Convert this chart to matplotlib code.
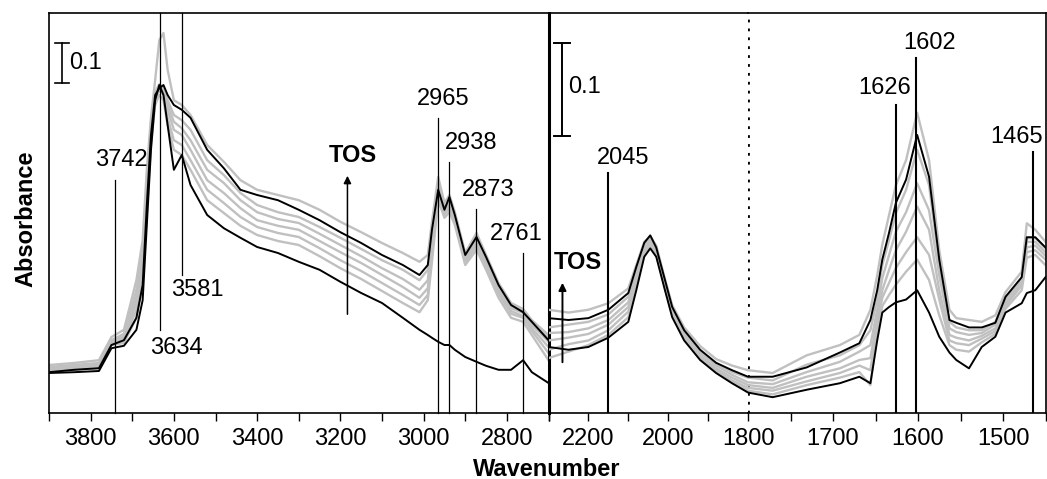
import matplotlib
matplotlib.use('Agg')
import matplotlib.pyplot as plt
import numpy as np

plt.rcParams['font.family'] = ['Liberation Sans', 'DejaVu Sans']

# ---------------- data (absorbance x 1000, relative) ----------------
left_wn = [3900, 3840, 3780, 3750, 3720, 3690, 3675, 3665, 3655, 3645, 3635, 3625, 3615, 3600,
           3581, 3560, 3520, 3480, 3440, 3400, 3350, 3300, 3250, 3200, 3150, 3100, 3050, 3010,
           2990, 2980, 2965, 2950, 2938, 2925, 2900, 2873, 2850, 2820, 2790, 2761, 2740, 2700]
left_first = [100, 102, 105, 162, 168, 208, 282, 470, 658, 782, 820, 795, 720, 608, 645, 570, 495, 462,
              438, 415, 400, 378, 358, 328, 300, 275, 238, 208, 195, 188, 178, 170, 170, 158, 140, 128,
              118, 108, 108, 132, 102, 75]
left_g1 = [105, 108, 112, 170, 175, 238, 320, 502, 675, 770, 795, 782, 720, 658, 645, 608, 532, 500, 468,
           445, 430, 420, 392, 362, 335, 305, 275, 252, 282, 378, 532, 488, 502, 470, 370, 408, 358, 288,
           238, 228, 195, 132]
left_g2 = [108, 112, 118, 175, 182, 258, 345, 520, 688, 782, 808, 795, 738, 682, 670, 632, 558, 525, 490,
           465, 450, 440, 412, 382, 355, 325, 295, 270, 295, 395, 542, 495, 512, 478, 375, 418, 368, 298,
           248, 238, 205, 150]
left_g3 = [110, 115, 120, 178, 188, 275, 362, 538, 700, 790, 812, 802, 758, 708, 695, 658, 582, 550, 512,
           482, 468, 458, 430, 402, 375, 345, 315, 288, 312, 412, 550, 502, 520, 482, 380, 425, 375, 305,
           255, 242, 212, 165]
left_g4 = [112, 118, 122, 180, 192, 290, 382, 558, 712, 795, 818, 808, 770, 728, 712, 682, 608, 575, 532,
           502, 485, 475, 448, 420, 392, 362, 335, 308, 332, 432, 558, 508, 528, 488, 385, 432, 382, 312,
           262, 250, 220, 178]
left_g5 = [115, 120, 125, 182, 198, 308, 402, 575, 725, 802, 822, 812, 782, 745, 732, 708, 632, 595, 550,
           520, 502, 490, 465, 438, 410, 382, 358, 332, 358, 452, 570, 515, 532, 495, 390, 440, 388, 318,
           268, 255, 225, 188]
left_g6 = [120, 125, 132, 190, 208, 332, 432, 608, 738, 832, 932, 950, 858, 782, 770, 745, 670, 628, 582,
           558, 545, 532, 508, 478, 452, 425, 400, 378, 395, 478, 590, 525, 545, 502, 400, 450, 395, 325,
           275, 260, 232, 195]
left_last = [102, 108, 112, 170, 182, 238, 320, 520, 695, 795, 812, 820, 795, 770, 758, 738, 658, 612, 558,
             545, 532, 508, 482, 452, 425, 395, 370, 345, 370, 458, 558, 508, 540, 495, 395, 440, 390, 320,
             270, 252, 228, 182]

right_wn = [2300, 2250, 2200, 2150, 2100, 2080, 2060, 2045, 2030, 2010, 1990, 1960, 1920, 1880, 1840,
            1800, 1771, 1731, 1692, 1669, 1656, 1648, 1642, 1634, 1626, 1614, 1601, 1587, 1575, 1563,
            1555, 1540, 1525, 1509, 1497, 1478, 1472, 1462, 1450]
right_first = [71, 68, 71, 81, 98, 132, 168, 177, 168, 135, 103, 78, 57, 43, 32, 22, 17, 25, 32, 39,
               32, 78, 108, 114, 119, 122, 132, 108, 82, 65, 57, 48, 71, 82, 108, 118, 129, 132, 146]
right_g1 = [59, 66, 73, 84, 103, 137, 171, 180, 170, 138, 105, 81, 58, 44, 33, 24, 20, 30, 38, 44,
            30, 86, 115, 127, 138, 152, 165, 143, 105, 73, 68, 66, 76, 85, 112, 132, 167, 170, 159]
right_g2 = [68, 74, 78, 89, 109, 141, 174, 182, 172, 140, 108, 83, 60, 46, 35, 27, 24, 34, 43, 51,
            46, 95, 124, 140, 156, 173, 189, 170, 122, 78, 75, 73, 80, 88, 115, 137, 173, 175, 165]
right_g3 = [78, 81, 85, 95, 114, 145, 176, 184, 173, 141, 109, 84, 62, 48, 38, 30, 27, 39, 48, 57,
            59, 102, 132, 154, 175, 195, 222, 197, 132, 84, 81, 78, 83, 91, 118, 140, 178, 180, 169]
right_g4 = [86, 87, 91, 100, 119, 149, 178, 186, 175, 143, 111, 86, 65, 51, 41, 33, 31, 44, 55, 66,
            73, 111, 145, 170, 195, 216, 247, 218, 148, 91, 87, 84, 86, 95, 122, 143, 184, 184, 173]
right_g5 = [92, 95, 98, 106, 125, 154, 181, 188, 177, 145, 113, 88, 67, 53, 44, 38, 35, 52, 62, 73,
            89, 122, 159, 186, 215, 240, 283, 245, 159, 98, 92, 89, 89, 98, 124, 145, 188, 188, 177]
right_g6 = [111, 108, 111, 118, 134, 159, 184, 190, 180, 147, 116, 92, 72, 58, 51, 46, 43, 62, 73, 84,
            111, 148, 181, 213, 245, 272, 323, 272, 175, 111, 102, 100, 98, 105, 130, 152, 204, 197, 184]
right_last = [102, 100, 102, 111, 129, 157, 183, 191, 178, 146, 114, 89, 68, 54, 46, 39, 39, 49, 65, 75,
              100, 132, 165, 194, 226, 251, 299, 254, 165, 100, 97, 92, 92, 97, 125, 146, 189, 189, 178]

left_peaks = [3742, 3634, 3581, 2965, 2938, 2873, 2761]
right_peaks_b = [1626, 1602, 1465]

# ---------------- figure ----------------
W, H = 1047, 479
fig = plt.figure(figsize=(W / 100, H / 100), dpi=100)


def rect(x0, x1, y0=13, y1=413):
    return [x0 / W, 1 - y1 / H, (x1 - x0) / W, (y1 - y0) / H]


ax1 = fig.add_axes(rect(49, 548.5))
ax2 = fig.add_axes(rect(548.5, 748))
ax3 = fig.add_axes(rect(748, 1045.5))

GRAY = '#c0c0c0'
FS = 17

lw_all = [left_g1, left_g2, left_g3, left_g4, left_g5, left_g6]
rw_all = [right_g1, right_g2, right_g3, right_g4, right_g5, right_g6]

lx = np.array(left_wn)
for s in lw_all:
    ax1.plot(lx, np.array(s) / 1000, color=GRAY, lw=1.7, zorder=2)
for s in (left_first, left_last):
    ax1.plot(lx, np.array(s) / 1000, color='black', lw=1.4, zorder=3)

rx = np.array(right_wn)
for ax in (ax2, ax3):
    for s in rw_all:
        ax.plot(rx, np.array(s) / 1000, color=GRAY, lw=1.7, zorder=2)
    for s in (right_first, right_last):
        ax.plot(rx, np.array(s) / 1000, color='black', lw=1.4, zorder=3)

ax1.set_xlim(3900, 2700)
ax2.set_xlim(2300, 1800)
ax3.set_xlim(1800, 1450)
ax1.set_ylim(0, 1.0)
ax2.set_ylim(0, 0.4301)
ax3.set_ylim(0, 0.4301)

# ticks
ax1.set_xticks([3800, 3600, 3400, 3200, 3000, 2800])
ax1.set_xticks([3900, 3700, 3500, 3300, 3100, 2900, 2700], minor=True)
ax2.set_xticks([2200, 2000, 1800])
ax2.set_xticks([2300, 2100, 1900], minor=True)
ax3.set_xticks([1700, 1600, 1500])
ax3.set_xticks([1750, 1650, 1550, 1450], minor=True)
for ax in (ax1, ax2, ax3):
    ax.set_yticks([])
    ax.tick_params(axis='x', which='both', direction='out', length=5.5, width=1.0,
                   labelsize=FS, pad=5)
    for sp in ax.spines.values():
        sp.set_linewidth(1.2)
    ax.patch.set_alpha(0)

ax1.spines['right'].set_linewidth(2.2)
ax2.spines['left'].set_visible(False)
ax2.spines['right'].set_visible(False)
ax3.spines['left'].set_visible(False)
ax3.axvline(1800, color='black', lw=2.0, linestyle=(0, (1, 2.2)), zorder=1)

# ---------------- annotations: left ----------------
lab_left = {3742: (3727, 0.6325), 3634: (3593, 0.1625), 3581: (3543, 0.3075),
            2965: (2953, 0.785), 2938: (2886, 0.675), 2873: (2845, 0.5575), 2761: (2778, 0.4475)}
line_left = {3742: (0, 0.5825), 3634: (0.2075, 1.0), 3581: (0.345, 1.0),
             2965: (0, 0.7375), 2938: (0, 0.6275), 2873: (0, 0.51), 2761: (0, 0.40)}
for p in left_peaks:
    y0, y1 = line_left[p]
    ax1.plot([p, p], [y0, y1], color='black', lw=0.9, zorder=4, clip_on=False)
    tx, ty = lab_left[p]
    ax1.text(tx, ty, str(p), fontsize=FS, ha='center', va='center', zorder=5)

# scale bar left
ax1.plot([3869, 3869], [0.825, 0.925], color='black', lw=1.2)
ax1.plot([3886, 3852], [0.825, 0.825], color='black', lw=1.2)
ax1.plot([3886, 3852], [0.925, 0.925], color='black', lw=1.2)
ax1.text(3852, 0.875, '0.1', fontsize=FS, ha='left', va='center')

# TOS arrow left
ax1.annotate('', xy=(3183, 0.60), xytext=(3183, 0.24),
             arrowprops=dict(arrowstyle='-|>', color='black', lw=1.1, mutation_scale=11))
ax1.text(3171, 0.645, 'TOS', fontsize=FS, fontweight='bold', ha='center', va='center')

# ---------------- annotations: right ----------------
ax2.plot([2151, 2151], [0, 0.258], color='black', lw=1.5, zorder=4)
ax2.text(2112, 0.274, '2045', fontsize=FS, ha='center', va='center')

ax2.plot([2265, 2265], [0.298, 0.398], color='black', lw=1.4)
ax2.plot([2285, 2245], [0.298, 0.298], color='black', lw=1.4)
ax2.plot([2285, 2245], [0.398, 0.398], color='black', lw=1.4)
ax2.text(2252, 0.3505, '0.1', fontsize=FS, ha='left', va='center')

ax2.annotate('', xy=(2265, 0.143), xytext=(2265, 0.0516),
             arrowprops=dict(arrowstyle='-|>', color='black', lw=1.4, mutation_scale=11))
ax2.text(2227, 0.162, 'TOS', fontsize=FS, fontweight='bold', ha='center', va='center')

lab_right = {1626: (1639.4, 0.3495), 1602: (1586.6, 0.398), 1465: (1484.6, 0.2968)}
top_right = {1626: 0.331, 1602: 0.3817, 1465: 0.2806}
for p in right_peaks_b:
    ax3.plot([p, p], [0, top_right[p]], color='black', lw=1.5, zorder=4)
    tx, ty = lab_right[p]
    ax3.text(tx, ty, str(p), fontsize=FS, ha='center', va='center', zorder=5)

# axis titles
fig.text(547 / W, 1 - 469 / H, 'Wavenumber', ha='center', va='center',
         fontsize=FS, fontweight='bold')
fig.text(26 / W, 1 - 219 / H, 'Absorbance', ha='center', va='center', rotation=90,
         fontsize=FS, fontweight='bold')

fig.savefig('out.png', dpi=100)
